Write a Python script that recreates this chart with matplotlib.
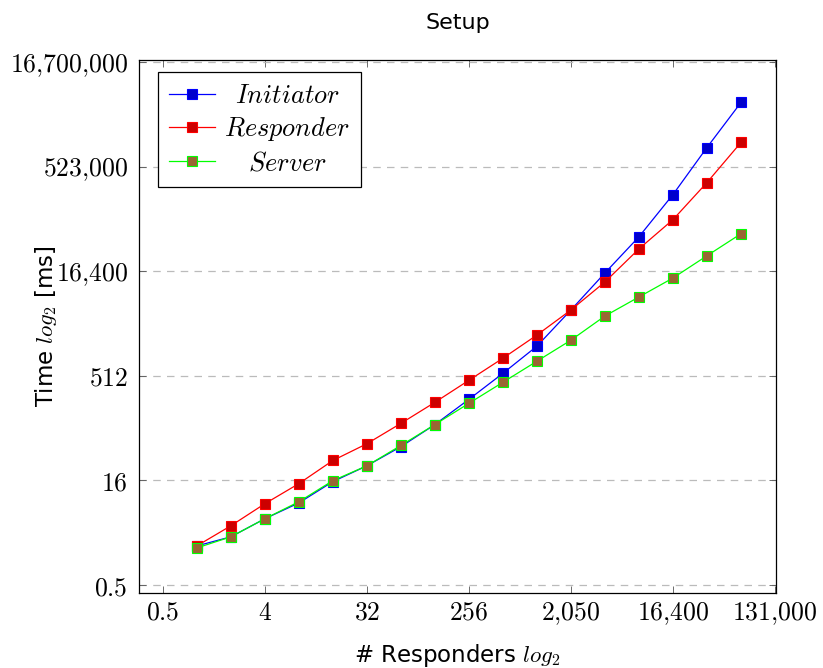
import matplotlib.pyplot as plt
import matplotlib.ticker as mticker

plt.rcParams['mathtext.fontset'] = 'cm'

responders = [2 ** i for i in range(17)]
initiator = [1.83, 2.47, 4.5, 7.6, 15.4, 26, 49, 102, 235, 557, 1370, 4540,
             15500, 51400, 208000, 990000, 4400000]
responder = [1.83, 3.56, 7.4, 14.4, 31, 54, 106, 213, 442, 918, 1980, 4540,
             11500, 34400, 90600, 310000, 1170000]
server = [1.71, 2.47, 4.5, 7.9, 15.9, 26, 51, 102, 206, 414, 832, 1670,
          3720, 6990, 13100, 27400, 56800]

x_ticks = [0.5, 4, 32, 256, 2048, 16384, 131072]
x_labels = ['0.5', '4', '32', '256', '2{,}050', '16{,}400', '131{,}000']
y_ticks = [0.5, 16, 512, 16384, 524288, 16777216]
y_labels = ['0.5', '16', '512', '16{,}400', '523{,}000', '16{,}700{,}000']

dpi = 100
fig = plt.figure(figsize=(823 / dpi, 668 / dpi), dpi=dpi)
ax = fig.add_axes([139 / 823, 1 - 593 / 668, (776 - 139) / 823, (593 - 60) / 668])

ms = 7.5
ax.plot(responders, initiator, color='#0000ff', lw=0.9, marker='s', ms=ms,
        mfc='#0000cc', mec='#0000ff', mew=0.8, label=r'$\mathit{Initiator}$', zorder=3)
ax.plot(responders, responder, color='#ff0000', lw=0.9, marker='s', ms=ms,
        mfc='#cc0000', mec='#ff0000', mew=0.8, label=r'$\mathit{Responder}$', zorder=3)
ax.plot(responders, server, color='#00ff00', lw=0.9, marker='s', ms=ms,
        mfc='#996633', mec='#00ff00', mew=0.8, label=r'$\mathit{Server}$', zorder=3)

ax.set_xscale('log', base=2)
ax.set_yscale('log', base=2)
ax.set_xlim(2 ** -1.7, 2 ** 17.03)
ax.set_ylim(2 ** -1.38, 2 ** 24.1)

ax.xaxis.set_major_locator(mticker.FixedLocator(x_ticks))
ax.xaxis.set_minor_locator(mticker.NullLocator())
ax.yaxis.set_major_locator(mticker.FixedLocator(y_ticks))
ax.yaxis.set_minor_locator(mticker.NullLocator())
ax.set_xticklabels(['$' + s + '$' for s in x_labels])
ax.set_yticklabels(['$' + s + '$' for s in y_labels])
ax.tick_params(direction='in', length=5, width=0.6, color='#555555',
               top=True, right=True, labelsize=18.5)
ax.tick_params(axis='x', pad=5)
ax.tick_params(axis='y', pad=8)

ax.yaxis.grid(True, color='#bbbbbb', linestyle=(0, (6, 5)), linewidth=0.9)
for s in ax.spines.values():
    s.set_linewidth(0.9)

ax.set_xlabel(r'# Responders $\mathit{log}_2$', fontsize=16.5, labelpad=11)
ax.set_ylabel(r'Time $\mathit{log}_2$ [ms]', fontsize=16.5)
ax.yaxis.set_label_coords(-0.125, 0.5)
ax.set_title('Setup', fontsize=16, pad=22)

leg = ax.legend(loc='upper left', bbox_to_anchor=(0.03, 0.977), fontsize=19,
                fancybox=False, edgecolor='black', framealpha=1,
                handlelength=1.75, borderpad=0.4, labelspacing=0.25,
                handletextpad=0.35, borderaxespad=0)
leg.get_frame().set_linewidth(0.9)

# centre legend labels like pgfplots
fig.canvas.draw()
r = fig.canvas.get_renderer()
texts = leg.get_texts()
widths = [t.get_window_extent(r).width for t in texts]
wmax = max(widths)
for t, w in zip(texts, widths):
    t.set_x((wmax - w) / 2)

fig.savefig('out.png', dpi=dpi)
